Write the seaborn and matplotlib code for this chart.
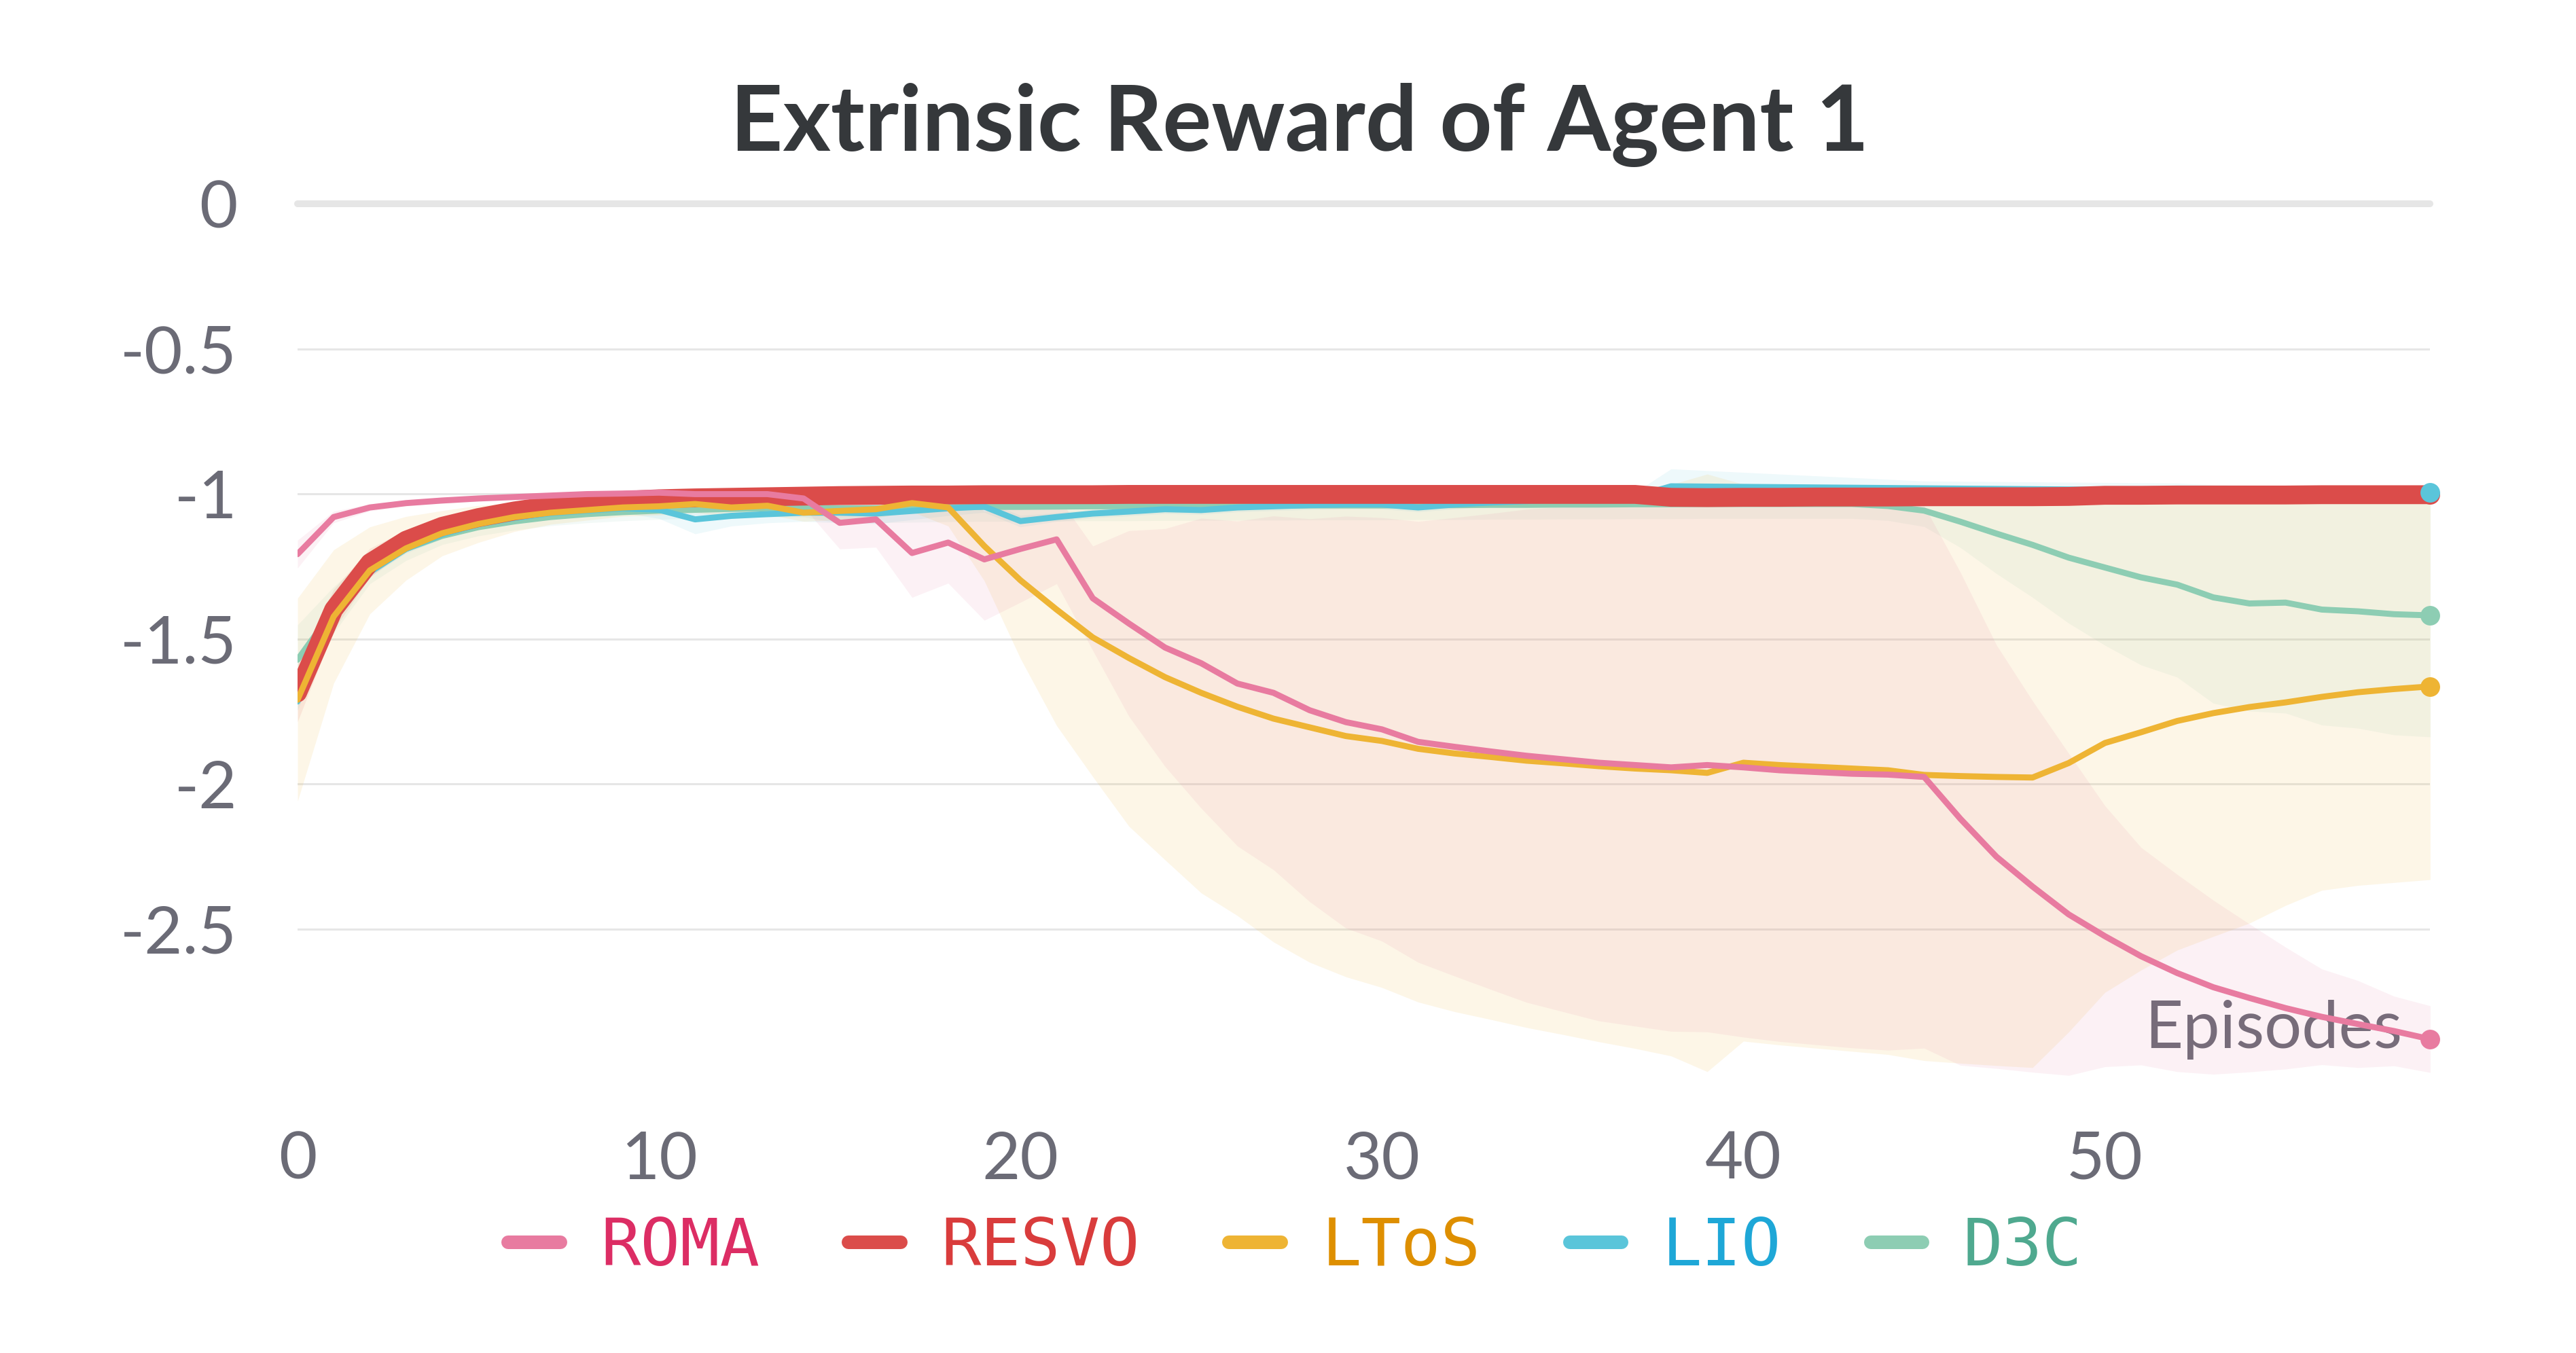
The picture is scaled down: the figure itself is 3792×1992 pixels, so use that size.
import numpy as np
import pandas as pd
import matplotlib
matplotlib.use("Agg")
import matplotlib.pyplot as plt
from matplotlib.lines import Line2D
import seaborn as sns

# episodes on the x axis
episodes = list(range(60))

methods = ["ROMA", "RESVO", "LToS", "LIO", "D3C"]
line_colors = ["#e87ba0", "#db4c4a", "#eeb434", "#5ac5da", "#8dcdb3"]
text_colors = ["#dc2d64", "#d93c3c", "#de8f00", "#1ea7d7", "#4fa98f"]

roma_mean = [-1.208, -1.080, -1.047, -1.032, -1.023, -1.016, -1.011, -1.006, -1.001, -0.999,
             -0.996, -1.001, -1.001, -1.001, -1.016, -1.100, -1.088, -1.204, -1.168, -1.226,
             -1.190, -1.157, -1.360, -1.447, -1.530, -1.584, -1.654, -1.686, -1.746, -1.787,
             -1.812, -1.855, -1.872, -1.888, -1.903, -1.915, -1.927, -1.935, -1.943, -1.935,
             -1.943, -1.953, -1.959, -1.965, -1.968, -1.976, -2.120, -2.251, -2.354, -2.450,
             -2.525, -2.594, -2.652, -2.701, -2.738, -2.773, -2.803, -2.828, -2.852, -2.880]
roma_std = [0.048, 0.020, 0.012, 0.010, 0.010, 0.010, 0.010, 0.010, 0.010, 0.010,
            0.010, 0.010, 0.010, 0.010, 0.030, 0.090, 0.096, 0.153, 0.140, 0.210,
            0.184, 0.153, 0.180, 0.320, 0.410, 0.500, 0.560, 0.610, 0.660, 0.710,
            0.730, 0.760, 0.790, 0.820, 0.850, 0.870, 0.890, 0.900, 0.910, 0.920,
            0.930, 0.935, 0.940, 0.945, 0.950, 0.935, 0.850, 0.730, 0.640, 0.555,
            0.450, 0.375, 0.340, 0.300, 0.255, 0.210, 0.165, 0.150, 0.120, 0.115]

resvo_mean = [-1.686, -1.399, -1.238, -1.160, -1.112, -1.082, -1.059, -1.041, -1.029, -1.023,
              -1.017, -1.014, -1.012, -1.010, -1.008, -1.006, -1.005, -1.004, -1.004, -1.003,
              -1.003, -1.003, -1.003, -1.002, -1.002, -1.002, -1.002, -1.002, -1.002, -1.002,
              -1.002, -1.002, -1.002, -1.002, -1.002, -1.002, -1.002, -1.002, -1.012, -1.013,
              -1.012, -1.012, -1.011, -1.011, -1.011, -1.010, -1.010, -1.010, -1.010, -1.009,
              -1.005, -1.005, -1.004, -1.004, -1.004, -1.004, -1.003, -1.003, -1.003, -1.003]
resvo_std = [0.100, 0.070, 0.050, 0.035, 0.030, 0.020, 0.020, 0.020, 0.020, 0.020,
             0.020, 0.020, 0.020, 0.020, 0.020, 0.020, 0.020, 0.020, 0.020, 0.020,
             0.020, 0.020, 0.020, 0.020, 0.020, 0.020, 0.020, 0.020, 0.020, 0.020,
             0.020, 0.020, 0.020, 0.020, 0.020, 0.020, 0.020, 0.020, 0.020, 0.020,
             0.020, 0.020, 0.020, 0.020, 0.020, 0.020, 0.020, 0.020, 0.020, 0.020,
             0.020, 0.020, 0.020, 0.020, 0.020, 0.020, 0.020, 0.020, 0.020, 0.020]

ltos_mean = [-1.710, -1.423, -1.264, -1.188, -1.136, -1.104, -1.080, -1.065, -1.056, -1.047,
             -1.043, -1.035, -1.047, -1.041, -1.065, -1.059, -1.053, -1.032, -1.047, -1.180,
             -1.298, -1.399, -1.495, -1.566, -1.632, -1.686, -1.734, -1.775, -1.805, -1.835,
             -1.852, -1.879, -1.895, -1.907, -1.920, -1.929, -1.939, -1.947, -1.953, -1.962,
             -1.927, -1.935, -1.941, -1.947, -1.953, -1.969, -1.973, -1.976, -1.978, -1.928,
             -1.859, -1.822, -1.783, -1.756, -1.735, -1.719, -1.700, -1.684, -1.673, -1.664]
ltos_std = [0.350, 0.230, 0.150, 0.110, 0.078, 0.064, 0.050, 0.040, 0.035, 0.030,
            0.030, 0.030, 0.030, 0.030, 0.030, 0.030, 0.030, 0.030, 0.064, 0.120,
            0.270, 0.400, 0.480, 0.580, 0.630, 0.690, 0.720, 0.770, 0.810, 0.830,
            0.850, 0.873, 0.890, 0.905, 0.920, 0.935, 0.950, 0.965, 0.985, 1.030,
            0.960, 0.965, 0.970, 0.975, 0.980, 0.985, 0.990, 0.995, 1.000, 0.927,
            0.860, 0.820, 0.790, 0.770, 0.745, 0.700, 0.667, 0.666, 0.667, 0.666]

lio_mean = [-1.716, -1.430, -1.270, -1.190, -1.140, -1.105, -1.083, -1.067, -1.058, -1.050,
            -1.055, -1.088, -1.076, -1.070, -1.065, -1.065, -1.068, -1.059, -1.050, -1.044,
            -1.094, -1.080, -1.068, -1.061, -1.053, -1.056, -1.047, -1.043, -1.039, -1.037,
            -1.037, -1.047, -1.037, -1.030, -1.025, -1.020, -1.015, -1.010, -0.974, -0.975,
            -0.976, -0.977, -0.978, -0.979, -0.980, -0.981, -0.982, -0.983, -0.984, -0.985,
            -0.986, -0.987, -0.988, -0.989, -0.990, -0.991, -0.992, -0.993, -0.994, -0.995]
lio_std = [0.030, 0.020, 0.015, 0.015, 0.015, 0.015, 0.015, 0.015, 0.015, 0.015,
           0.030, 0.050, 0.035, 0.030, 0.030, 0.035, 0.035, 0.030, 0.025, 0.020,
           0.020, 0.015, 0.015, 0.015, 0.015, 0.015, 0.015, 0.015, 0.015, 0.015,
           0.015, 0.015, 0.015, 0.015, 0.015, 0.015, 0.015, 0.015, 0.060, 0.055,
           0.050, 0.045, 0.040, 0.035, 0.030, 0.025, 0.025, 0.025, 0.025, 0.025,
           0.025, 0.025, 0.025, 0.020, 0.020, 0.020, 0.020, 0.020, 0.020, 0.020]

d3c_mean = [-1.572, -1.400, -1.260, -1.190, -1.145, -1.115, -1.095, -1.080, -1.070, -1.063,
            -1.058, -1.055, -1.052, -1.050, -1.050, -1.050, -1.050, -1.048, -1.046, -1.045,
            -1.045, -1.044, -1.043, -1.043, -1.042, -1.042, -1.041, -1.041, -1.040, -1.040,
            -1.040, -1.039, -1.039, -1.038, -1.038, -1.037, -1.037, -1.036, -1.036, -1.035,
            -1.035, -1.035, -1.035, -1.035, -1.042, -1.058, -1.096, -1.137, -1.176, -1.220,
            -1.254, -1.288, -1.313, -1.357, -1.378, -1.375, -1.399, -1.405, -1.415, -1.419]
d3c_std = [0.120, 0.080, 0.050, 0.040, 0.030, 0.030, 0.030, 0.030, 0.030, 0.030,
           0.030, 0.030, 0.030, 0.030, 0.030, 0.050, 0.050, 0.050, 0.050, 0.050,
           0.050, 0.050, 0.050, 0.050, 0.050, 0.050, 0.050, 0.050, 0.050, 0.050,
           0.050, 0.050, 0.050, 0.050, 0.050, 0.050, 0.050, 0.050, 0.050, 0.050,
           0.050, 0.050, 0.050, 0.050, 0.050, 0.055, 0.089, 0.138, 0.181, 0.226,
           0.268, 0.302, 0.319, 0.365, 0.371, 0.381, 0.398, 0.403, 0.416, 0.419]

ytick_values = [-2.5, -2, -1.5, -1, -0.5, 0]
ytick_labels = ["-2.5", "-2", "-1.5", "-1", "-0.5", "0"]
xtick_values = [0, 10, 20, 30, 40, 50]
xtick_labels = ["0", "10", "20", "30", "40", "50"]

means = {"ROMA": roma_mean, "RESVO": resvo_mean, "LToS": ltos_mean, "LIO": lio_mean, "D3C": d3c_mean}
stds = {"ROMA": roma_std, "RESVO": resvo_std, "LToS": ltos_std, "LIO": lio_std, "D3C": d3c_std}
widths = {"ROMA": 3.2, "RESVO": 10.0, "LToS": 3.2, "LIO": 3.2, "D3C": 3.2}
band_alpha = {"ROMA": 0.1, "RESVO": 0.1, "LToS": 0.115, "LIO": 0.1, "D3C": 0.1}
colors = dict(zip(methods, line_colors))

sns.set_theme(style="white")
plt.rcParams["font.family"] = ["Lato", "DejaVu Sans"]

fig = plt.figure(figsize=(18.96, 9.96), dpi=200)
ax = fig.add_axes([0.1155, 0.1998, 0.8279, 0.6496])

draw_order = ["D3C", "LIO", "RESVO", "LToS", "ROMA"]

# shaded bands (mean +/- spread)
for m in draw_order:
    mu = np.array(means[m])
    sd = np.array(stds[m])
    ax.fill_between(episodes, mu - sd, mu + sd, color=colors[m], alpha=band_alpha[m],
                    linewidth=0, zorder=1)

# mean lines
for m in draw_order:
    df = pd.DataFrame({"episode": episodes, "reward": means[m]})
    sns.lineplot(data=df, x="episode", y="reward", ax=ax, color=colors[m],
                 linewidth=widths[m], legend=False, zorder=3)

# end markers
for m in methods:
    ax.plot(episodes[-1], means[m][-1], "o", color=colors[m], markersize=10.4,
            markeredgewidth=0, clip_on=False, zorder=5)

ax.set_xlim(0, 59)
ax.set_ylim(-3.03, 0)
for s in ax.spines.values():
    s.set_visible(False)

ax.set_yticks(ytick_values)
ax.set_yticklabels(ytick_labels)
ax.set_xticks(xtick_values)
ax.set_xticklabels(xtick_labels)
ax.grid(axis="y", color="#e6e6e6", linewidth=1.1)
ax.grid(axis="x", visible=False)
ax.set_axisbelow(True)
ax.axhline(0, color="#e6e6e6", linewidth=3.6, zorder=0.5, clip_on=False)

ax.tick_params(axis="y", length=0, pad=32, labelsize=35, labelcolor="#6b6b76")
ax.tick_params(axis="x", direction="inout", length=25.9, width=1.1, color="#e6e6e6",
               pad=12.5, labelsize=35, labelcolor="#6b6b76")

ax.set_ylabel("")
ax.set_xlabel("Episodes", fontsize=35, color="#6b6b76", ha="right", va="baseline")
ax.xaxis.set_label_coords(0.987, 0.0397)

fig.text(0.5045, 0.8886, "Extrinsic Reward of Agent 1", ha="center", va="baseline",
         fontsize=48.5, fontweight="bold", color="#35383b")

handles = [Line2D([0], [0], color=c, lw=7.2, solid_capstyle="round") for c in line_colors]
leg = fig.legend(handles, methods, loc="center", bbox_to_anchor=(0.5028, 0.0783), ncol=5,
                 frameon=False, handlelength=0.79, handletextpad=0.61, columnspacing=1.35,
                 prop={"family": "DejaVu Sans Mono", "size": 35})
for t, c in zip(leg.get_texts(), text_colors):
    t.set_color(c)

fig.savefig("out.png", dpi=200)
